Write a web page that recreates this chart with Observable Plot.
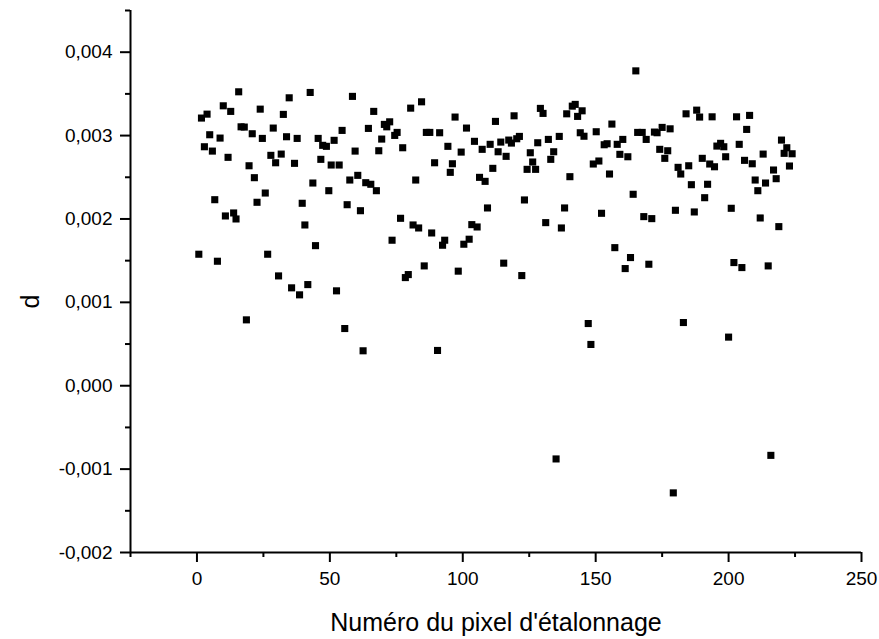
<!DOCTYPE html>
<html><head><meta charset="utf-8">
<script src="https://cdn.jsdelivr.net/npm/d3@7"></script>
<script src="https://cdn.jsdelivr.net/npm/@observablehq/plot@0.6"></script>
<style>html,body{margin:0;padding:0;background:#fff;}</style>
</head><body><div id="chart"></div>
<script>
// Calibration pixel number (x) and d value (y)
const pixel = [
  15.7,34.7,42.6,9.9,12.7,23.8,32.5,3.8,1.7,16.6,17.8,20.8,28.7,4.8,8.7,24.6,33.7,37.7,45.6,47.3,
  2.8,5.8,11.7,27.8,31.7,29.6,36.7,46.6,19.6,21.6,43.6,25.7,6.7,22.6,39.6,13.8,10.7,14.7,40.6,44.6,
  58.5,84.5,80.4,66.5,54.6,64.5,70.5,72.5,71.4,75.3,74.4,86.3,87.6,91.3,48.7,51.6,69.5,59.5,68.4,77.4,
  94.4,50.5,53.5,89.4,96.1,95.3,60.5,57.5,63.5,65.4,67.5,82.3,49.6,56.5,61.5,76.6,81.3,83.4,88.3,73.4,
  93.2,92.4,97.1,
  101.4,112.3,119.3,129.2,130.2,141.2,142.3,139.1,143.2,144.9,104.4,99.4,107.3,110.3,114.3,117.3,118.3,
  120.3,121.3,113.3,116.3,128.2,132.2,136.3,125.4,134.2,133.1,126.3,124.2,127.4,144.2,145.6,111.3,106.3,
  108.4,140.3,123.2,109.3,138.3,103.4,105.4,131.2,137.1,102.4,100.4,
  165.1,184.0,188.0,189.1,193.8,156.1,150.2,165.8,167.5,169.0,172.1,173.1,175.0,178.0,153.2,154.3,158.1,
  160.2,159.1,162.1,174.1,177.1,176.0,149.1,151.2,155.2,181.0,182.0,185.0,190.1,192.9,194.7,195.6,186.0,
  192.1,191.0,164.1,152.2,168.1,171.1,180.0,187.1,157.2,
  203.0,207.9,206.8,219.9,197.0,198.2,204.0,221.9,220.9,223.9,213.0,198.9,206.0,208.9,222.9,216.9,217.9,
  210.0,213.9,211.0,201.0,211.9,218.9,
  0.7,7.7,26.6,30.7,35.6,41.7,38.6,52.5,18.6,55.6,62.5,90.5,85.5,79.5,78.4,98.3,115.4,122.2,
  163.1,161.1,170.0,202.0,205.0,214.9,147.2,148.2,183.0,200.0,135.1,215.9,179.2
];
const d = [
  0.003525,0.003453,0.003517,0.003357,0.003290,0.003317,0.003254,0.003257,0.003210,0.003105,
  0.003102,0.003022,0.003090,0.003010,0.002970,0.002966,0.002986,0.002966,0.002966,0.002883,
  0.002866,0.002814,0.002739,0.002763,0.002778,0.002674,0.002667,0.002715,0.002638,0.002495,
  0.002431,0.002311,0.002231,0.002200,0.002188,0.002072,0.002036,0.002000,0.001928,0.001680,
  0.003470,0.003405,0.003329,0.003290,0.003062,0.003086,0.003134,0.003165,0.003105,0.003038,
  0.003002,0.003038,0.003038,0.003034,0.002871,0.002943,0.002958,0.002814,0.002818,0.002854,
  0.002871,0.002647,0.002647,0.002674,0.002662,0.002559,0.002523,0.002467,0.002435,0.002416,
  0.002339,0.002467,0.002339,0.002171,0.002099,0.002008,0.001928,0.001892,0.001832,0.001745,
  0.001745,0.001685,0.003222,
  0.003090,0.003170,0.003237,0.003326,0.003266,0.003353,0.003374,0.003261,0.003230,0.003297,
  0.002931,0.002802,0.002835,0.002895,0.002922,0.002946,0.002910,0.002962,0.002990,0.002806,
  0.002751,0.002914,0.002954,0.002990,0.002794,0.002806,0.002715,0.002683,0.002595,0.002595,
  0.003034,0.002992,0.002607,0.002499,0.002451,0.002507,0.002228,0.002132,0.002132,0.001932,
  0.001904,0.001956,0.001892,0.001757,0.001697,
  0.003776,0.003261,0.003305,0.003222,0.003225,0.003138,0.003046,0.003038,0.003038,0.002954,
  0.003042,0.003034,0.003098,0.003081,0.002890,0.002902,0.002895,0.002954,0.002775,0.002746,
  0.002835,0.002818,0.002727,0.002659,0.002695,0.002539,0.002619,0.002539,0.002638,0.002727,
  0.002659,0.002626,0.002874,0.002411,0.002416,0.002255,0.002296,0.002068,0.002028,0.002004,
  0.002104,0.002084,0.001656,
  0.003225,0.003242,0.003074,0.002946,0.002907,0.002866,0.002895,0.002854,0.002787,0.002782,
  0.002778,0.002746,0.002703,0.002662,0.002635,0.002587,0.002483,0.002467,0.002431,0.002339,
  0.002128,0.002012,0.001908,
  0.001577,0.001493,0.001577,0.001317,0.001174,0.001213,0.001090,0.001138,0.000790,0.000686,
  0.000419,0.000423,0.001437,0.001333,0.001297,0.001374,0.001470,0.001321,
  0.001537,0.001405,0.001457,0.001477,0.001417,0.001437,0.000746,0.000495,0.000758,0.000583,
  -0.000878,-0.000835,-0.001285
];
const xMajorTicks = [0, 50, 100, 150, 200, 250];
const xMinorTicks = [-25, 25, 75, 125, 175, 225];
const yMajorTicks = [-0.002, -0.001, 0, 0.001, 0.002, 0.003, 0.004];
const yMinorTicks = [-0.0015, -0.0005, 0.0005, 0.0015, 0.0025, 0.0035, 0.0045];
const yTickLabels = ["-0,002", "-0,001", "0,000", "0,001", "0,002", "0,003", "0,004"];
const xTitle = "Numéro du pixel d'étalonnage";
const yTitle = "d";

const data = pixel.map((p, i) => ({pixel: p, d: d[i]}));

const chart = Plot.plot({
  width: 879, height: 639,
  marginLeft: 130, marginRight: 18, marginTop: 10, marginBottom: 87,
  style: {fontFamily: "'Liberation Sans', Arial, sans-serif", fontSize: "19px", background: "white", color: "black"},
  x: {domain: [-25, 250]},
  y: {domain: [-0.002, 0.0045]},
  marks: [
    Plot.axisX(xMinorTicks, {tickSize: 5, tickFormat: () => "", strokeWidth: 2, label: null}),
    Plot.axisX(xMajorTicks, {tickSize: 10, tickPadding: 9, strokeWidth: 2, label: null}),
    Plot.axisY(yMinorTicks, {tickSize: 5, tickFormat: () => "", strokeWidth: 2, label: null}),
    Plot.axisY(yMajorTicks, {tickSize: 10, tickPadding: 8, strokeWidth: 2, label: null,
      tickFormat: v => yTickLabels[yMajorTicks.indexOf(v)]}),
    Plot.ruleX([-25], {strokeWidth: 2}),
    Plot.ruleY([-0.002], {strokeWidth: 2}),
    Plot.dot(data, {x: "pixel", y: "d", symbol: "square", r: 4, fill: "black", stroke: null}),
    Plot.text([xTitle], {frameAnchor: "bottom", dy: 78, fontSize: 25}),
    Plot.text([yTitle], {frameAnchor: "left", dx: -100, dy: 27, rotate: -90, fontSize: 25})
  ]
});
document.getElementById("chart").appendChild(chart);
</script>
</body></html>
